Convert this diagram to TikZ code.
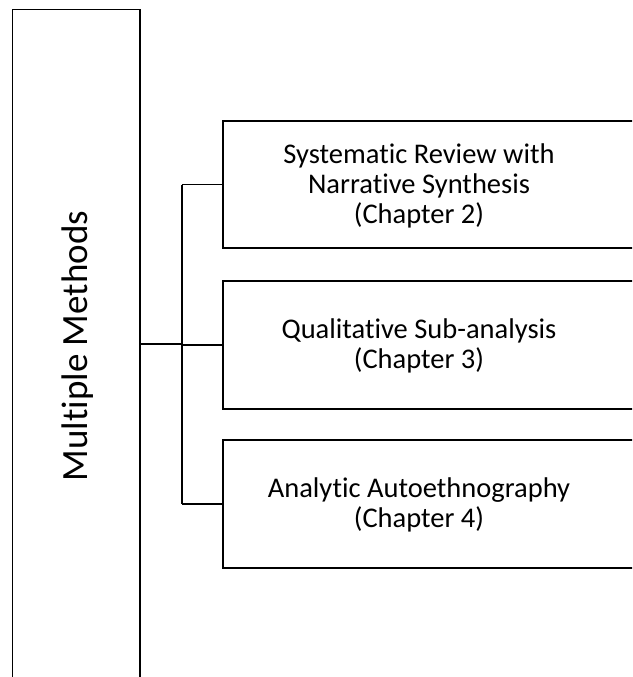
\documentclass[tikz,border=0pt]{standalone}
\usepackage{fontspec}
\setmainfont{Carlito}[Ligatures=NoCommon]
\begin{document}
\begin{tikzpicture}[x=1pt,y=-1pt,
  frame/.style={draw=black,line width=1.8pt,rectangle,inner sep=0pt},
  lbl/.style={align=center,font=\fontsize{28.5}{30}\selectfont,inner sep=0pt},
  conn/.style={draw=black,line width=1.8pt}]
\useasboundingbox (0,0) rectangle (632,677);
\clip (0,0) rectangle (632,677);
% left tall box
\node[frame,minimum width=127.5pt,minimum height=700pt] (L) at (76.25,359.5) {};
\node[lbl,font=\fontsize{37}{40}\selectfont,rotate=90] (Lt) at (78,346) {Multiple Methods};
% right boxes
\node[frame,minimum width=430pt,minimum height=127pt] (b1) at (438,184.5) {};
\node[frame,minimum width=430pt,minimum height=128pt] (b2) at (438,345) {};
\node[frame,minimum width=430pt,minimum height=128pt] (b3) at (438,504) {};
\node[lbl] (t1) at (419,186) {Systematic Review with\\Narrative Synthesis\\(Chapter 2)};
\node[lbl] (t2) at (419,346) {Qualitative Sub-analysis\\(Chapter 3)};
\node[lbl] (t3) at (419,505) {Analytic Autoethnography\\(Chapter 4)};
% connectors
\coordinate (J) at (182,344);
\draw[conn] (L.east |- J) -- (J);
\draw[conn] (J |- b1.west) -- (J |- b3.west);
\draw[conn] (J |- b1.west) -- (b1.west);
\draw[conn] (J |- b2.west) -- (b2.west);
\draw[conn] (J |- b3.west) -- (b3.west);
\end{tikzpicture}
\end{document}
